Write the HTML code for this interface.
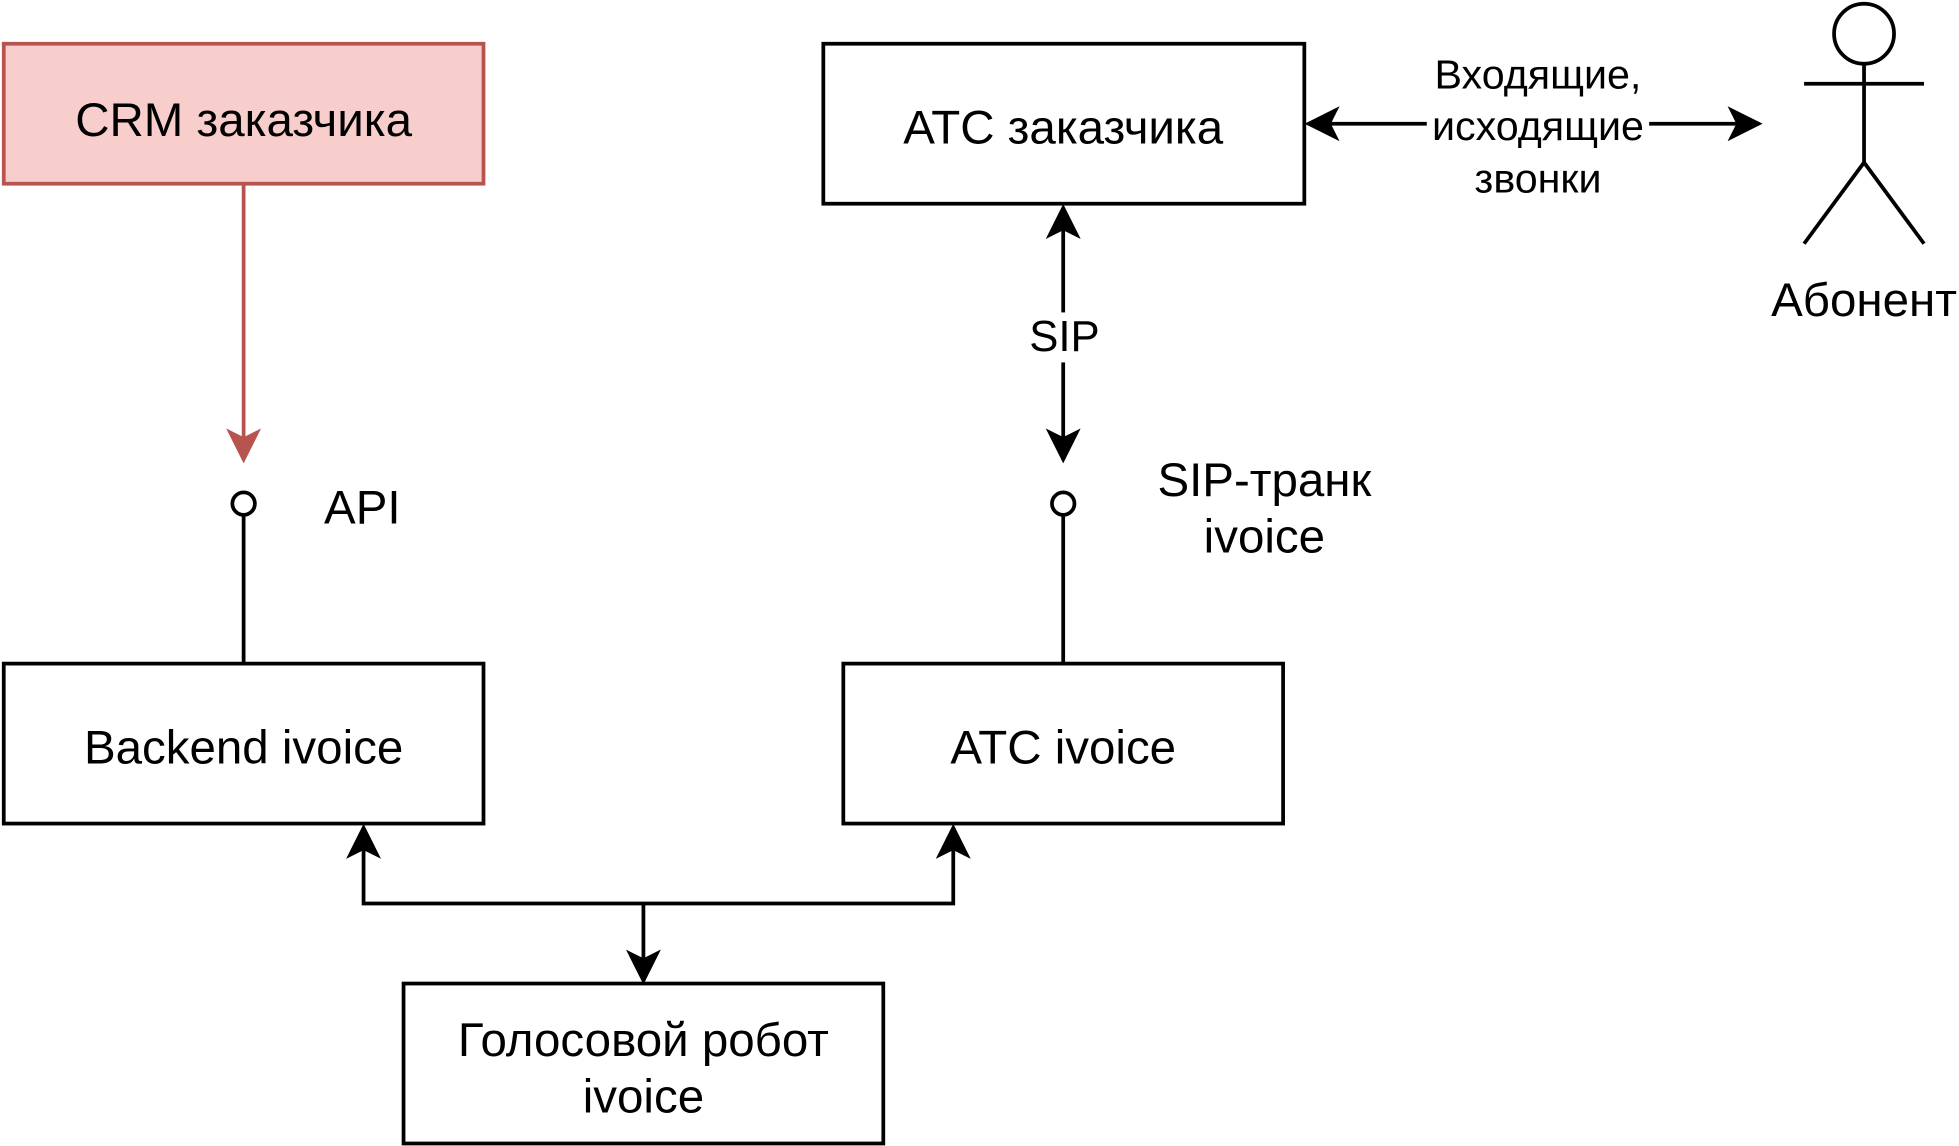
<!DOCTYPE html>
<html><head><meta charset="utf-8"><style>html,body{margin:0;padding:0;background:#fff}svg{display:block}</style></head>
<body>
<svg width="1959" height="1146" viewBox="0 0 1568 917" preserveAspectRatio="none" xmlns="http://www.w3.org/2000/svg" font-family="Liberation Sans, Arial, sans-serif">
<defs>
<marker id="a" viewBox="0 0 20 20" refX="18" refY="10" markerWidth="28" markerHeight="28" markerUnits="userSpaceOnUse" orient="auto-start-reverse"><path d="M0,0 L20,10 L0,20 L5,10 Z" fill="#000"/></marker>
<marker id="r" viewBox="0 0 20 20" refX="18" refY="10" markerWidth="28" markerHeight="28" markerUnits="userSpaceOnUse" orient="auto"><path d="M0,0 L20,10 L0,20 L5,10 Z" fill="#b85450"/></marker>
</defs>
<g stroke-width="3" fill="none">
<rect x="3" y="35" width="384" height="112" fill="#f8cecc" stroke="#b85450"/>
<line x1="195" y1="147" x2="195" y2="368" stroke="#b85450" marker-end="url(#r)"/>
<rect x="3" y="531" width="384" height="128" stroke="#000" fill="#fff"/>
<rect x="675" y="531" width="352" height="128" stroke="#000" fill="#fff"/>
<rect x="659" y="35" width="385" height="128" stroke="#000" fill="#fff"/>
<rect x="323" y="787" width="384" height="128" stroke="#000" fill="#fff"/>
<circle cx="195" cy="403" r="9" stroke="#000"/>
<line x1="195" y1="413" x2="195" y2="531" stroke="#000"/>
<circle cx="851" cy="403" r="9" stroke="#000"/>
<line x1="851" y1="413" x2="851" y2="531" stroke="#000"/>
<line x1="851" y1="166" x2="851" y2="368" stroke="#000" marker-start="url(#a)" marker-end="url(#a)"/>
<polyline points="291,662 291,723 763,723 763,662" stroke="#000" marker-start="url(#a)" marker-end="url(#a)"/>
<line x1="515" y1="723" x2="515" y2="785" stroke="#000" marker-end="url(#a)"/>
<line x1="1047" y1="99" x2="1408" y2="99" stroke="#000" marker-start="url(#a)" marker-end="url(#a)"/>
<circle cx="1492" cy="27" r="24" stroke="#000"/>
<line x1="1492" y1="51" x2="1492" y2="130" stroke="#000"/>
<line x1="1444" y1="67" x2="1540" y2="67" stroke="#000"/>
<polyline points="1444,195 1492,130 1540,195" stroke="#000"/>
</g>
<rect x="823" y="250" width="58" height="40" fill="#fff"/>
<rect x="1142" y="42" width="178" height="116" fill="#fff"/>
<g font-size="38" fill="#000" text-anchor="middle">
<text x="195" y="109">CRM заказчика</text>
<text x="195" y="611">Backend ivoice</text>
<text x="851" y="611">АТС ivoice</text>
<text x="851" y="115">АТС заказчика</text>
<text x="515" y="845">Голосовой робот</text>
<text x="515" y="890">ivoice</text>
<text x="290" y="419">API</text>
<text x="1012" y="397">SIP-транк</text>
<text x="1012" y="442">ivoice</text>
<text x="1492" y="253">Абонент</text>
</g>
<g font-size="35" fill="#000" text-anchor="middle">
<text x="852" y="281">SIP</text>
</g>
<g font-size="33" fill="#000" text-anchor="middle">
<text x="1231" y="71">Входящие,</text>
<text x="1231" y="112">исходящие</text>
<text x="1231" y="154">звонки</text>
</g>
</svg>
</body></html>
